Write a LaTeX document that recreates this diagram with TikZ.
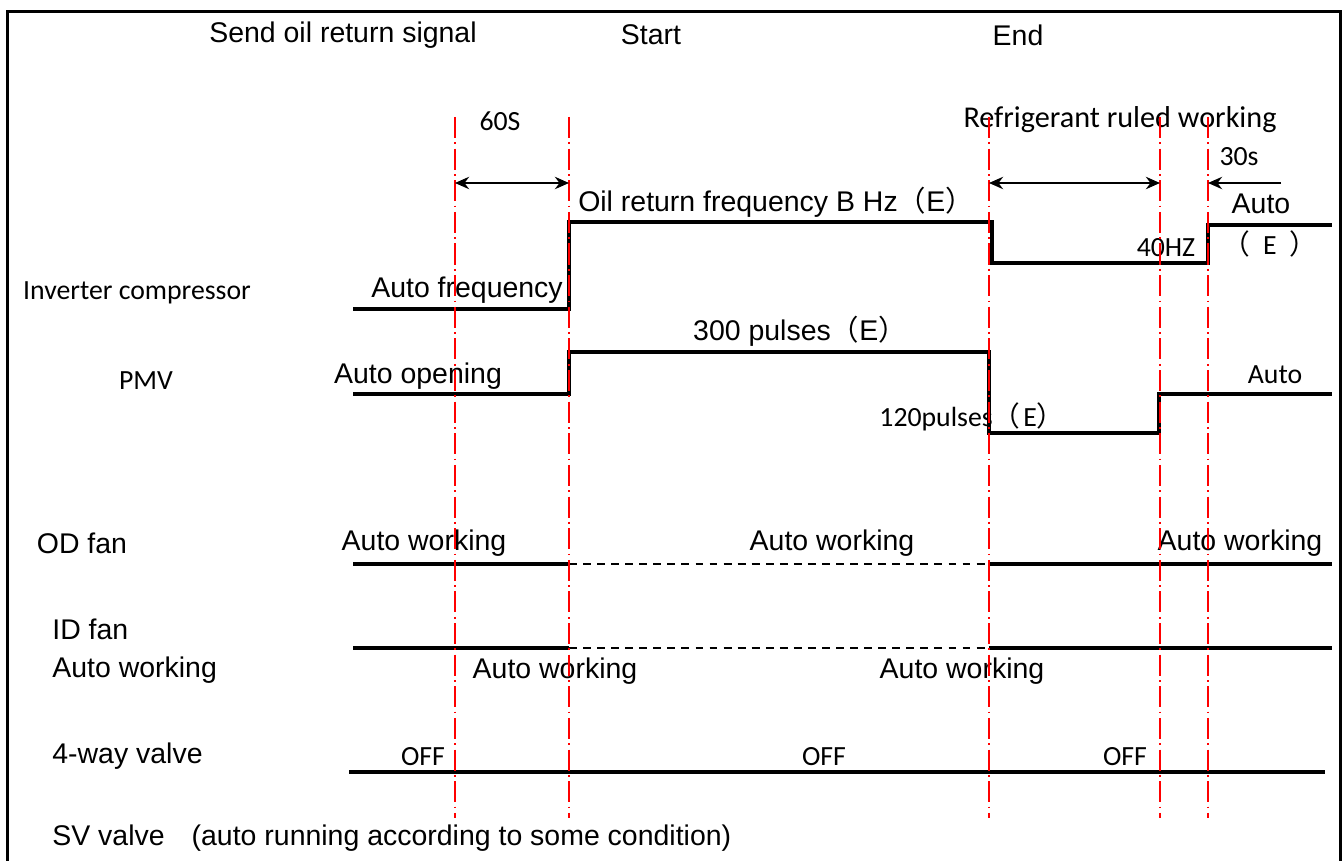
\documentclass[tikz,border=0pt]{standalone}
\usepackage{fontspec}
\setmainfont{Liberation Sans}
\newfontfamily\calib{Carlito}
\newfontfamily\cjk{Noto Sans CJK SC}
\usetikzlibrary{arrows.meta,positioning,calc}

\newcommand{\fwE}{{\cjk （}E{\cjk ）}}

\begin{document}
\begin{tikzpicture}[
    x=0.02cm, y=-0.02cm,
    lbl/.style={font=\fontsize{16.2}{19}\selectfont, inner sep=0pt},
    clb/.style={font=\calib\fontsize{15.8}{19}\selectfont, inner sep=0pt},
    sig/.style={line width=2.1pt, line join=miter},
    idle/.style={line width=1.2pt, dash pattern=on 4.5pt off 3.5pt},
    tline/.style={red, line width=1.1pt, dash pattern=on 12pt off 2.5pt on 1pt off 2.5pt},
    dim/.style={{Stealth[length=8pt,width=7pt]}-{Stealth[length=8pt,width=7pt]}, line width=1.4pt},
    dimone/.style={-{Stealth[length=8pt,width=7pt]}, line width=1.4pt}
]
    \useasboundingbox (0,0) rectangle (1342,861);

    % Frame
    \draw[line width=1.7pt] (7.5,861) -- (7.5,11.5) -- (1340.5,11.5) -- (1340.5,861);

    % Header
    \node[lbl] (send) at (343,35) {Send oil return signal};
    \node[lbl] (start) at (651,35) {Start};
    \node[lbl] (end) at (1018,35) {End};

    % Time spans
    \node[clb] (t60) at (500,121) {60S};
    \node[clb, font=\calib\fontsize{17.2}{20}\selectfont] (refr) at (1120,120) {Refrigerant ruled working};
    \node[clb] (t30) at (1239,157) {30s};

    % Inverter compressor
    \node[clb] (compr) at (137,293) {Inverter compressor};
    \node[lbl] (autofreq) at (467,290) {Auto frequency};
    \node[lbl, anchor=base] (oilfreq) at (776,212) {Oil return frequency B Hz\fwE};
    \node[clb] (hz40) at (1166,248) {40HZ};
    \node[lbl] (autoc) at (1261,204) {Auto};
    \node[clb, anchor=base] (autoce) at (1270,255) {{\cjk （}\hspace{0.45em}E\hspace{0.45em}{\cjk ）}};
    \draw[sig] (353,309) -- (569,309) -- (569,222) -- (992,222) -- (992,263)
        -- (1208,263) -- (1208,225) -- (1332,225);

    % PMV
    \node[clb] (pmv) at (146,381) {PMV};
    \node[lbl] (autoopen) at (418,376) {Auto opening};
    \node[lbl, anchor=base] (p300) at (800,341) {300 pulses\fwE};
    \node[clb, anchor=base] (p120) at (972,426) {120pulses{\cjk （}\hspace{0.1em}E{\cjk ）}};
    \node[clb] (autop) at (1275,375) {Auto};
    \draw[sig] (353,394) -- (569,394) -- (569,352) -- (989,352) -- (989,433)
        -- (1159,433) -- (1159,394) -- (1332,394);

    % OD fan
    \node[lbl] (odfan) at (82,543) {OD fan};
    \node[lbl] (odautoa) at (424,543) {Auto working};
    \node[lbl] (odautob) at (832,543) {Auto working};
    \node[lbl] (odautoc) at (1240,543) {Auto working};
    \draw[sig] (353,564) -- (569,564);
    \draw[idle] (569,564) -- (989,564);
    \draw[sig] (989,564) -- (1332,564);

    % ID fan
    \node[lbl, anchor=west] (idfan) at (52,629) {ID fan};
    \node[lbl, anchor=west] (idauto) at (52,670) {Auto working};
    \node[lbl] (idautoa) at (555,671) {Auto working};
    \node[lbl] (idautob) at (962,671) {Auto working};
    \draw[sig] (353,648) -- (569,648);
    \draw[idle] (569,648) -- (989,648);
    \draw[sig] (989,648) -- (1332,648);

    % 4-way valve
    \node[lbl, anchor=west] (fourway) at (52,756) {4-way valve};
    \node[clb] (offa) at (423,757) {OFF};
    \node[clb] (offb) at (824,757) {OFF};
    \node[clb] (offc) at (1125,757) {OFF};
    \draw[line width=2.3pt] (349,772) -- (1325,772);

    % SV valve
    \node[lbl, anchor=west] (sv) at (52,838) {SV valve\hspace{0.95em}(auto running according to some condition)};

    % Time marks
    \foreach \x in {455,569,989,1160,1208}
        \draw[tline] (\x,117) -- (\x,818);

    % Span arrows
    \coordinate (spana) at (455,183);
    \coordinate (spanb) at (569,183);
    \coordinate (spanc) at (989,183);
    \coordinate (spand) at (1160,183);
    \coordinate (spane) at (1281,183);
    \coordinate (spanf) at (1208,183);
    \draw[dim] (spana) -- (spanb);
    \draw[dim] (spanc) -- (spand);
    \draw[dimone] (spane) -- (spanf);
\end{tikzpicture}
\end{document}
